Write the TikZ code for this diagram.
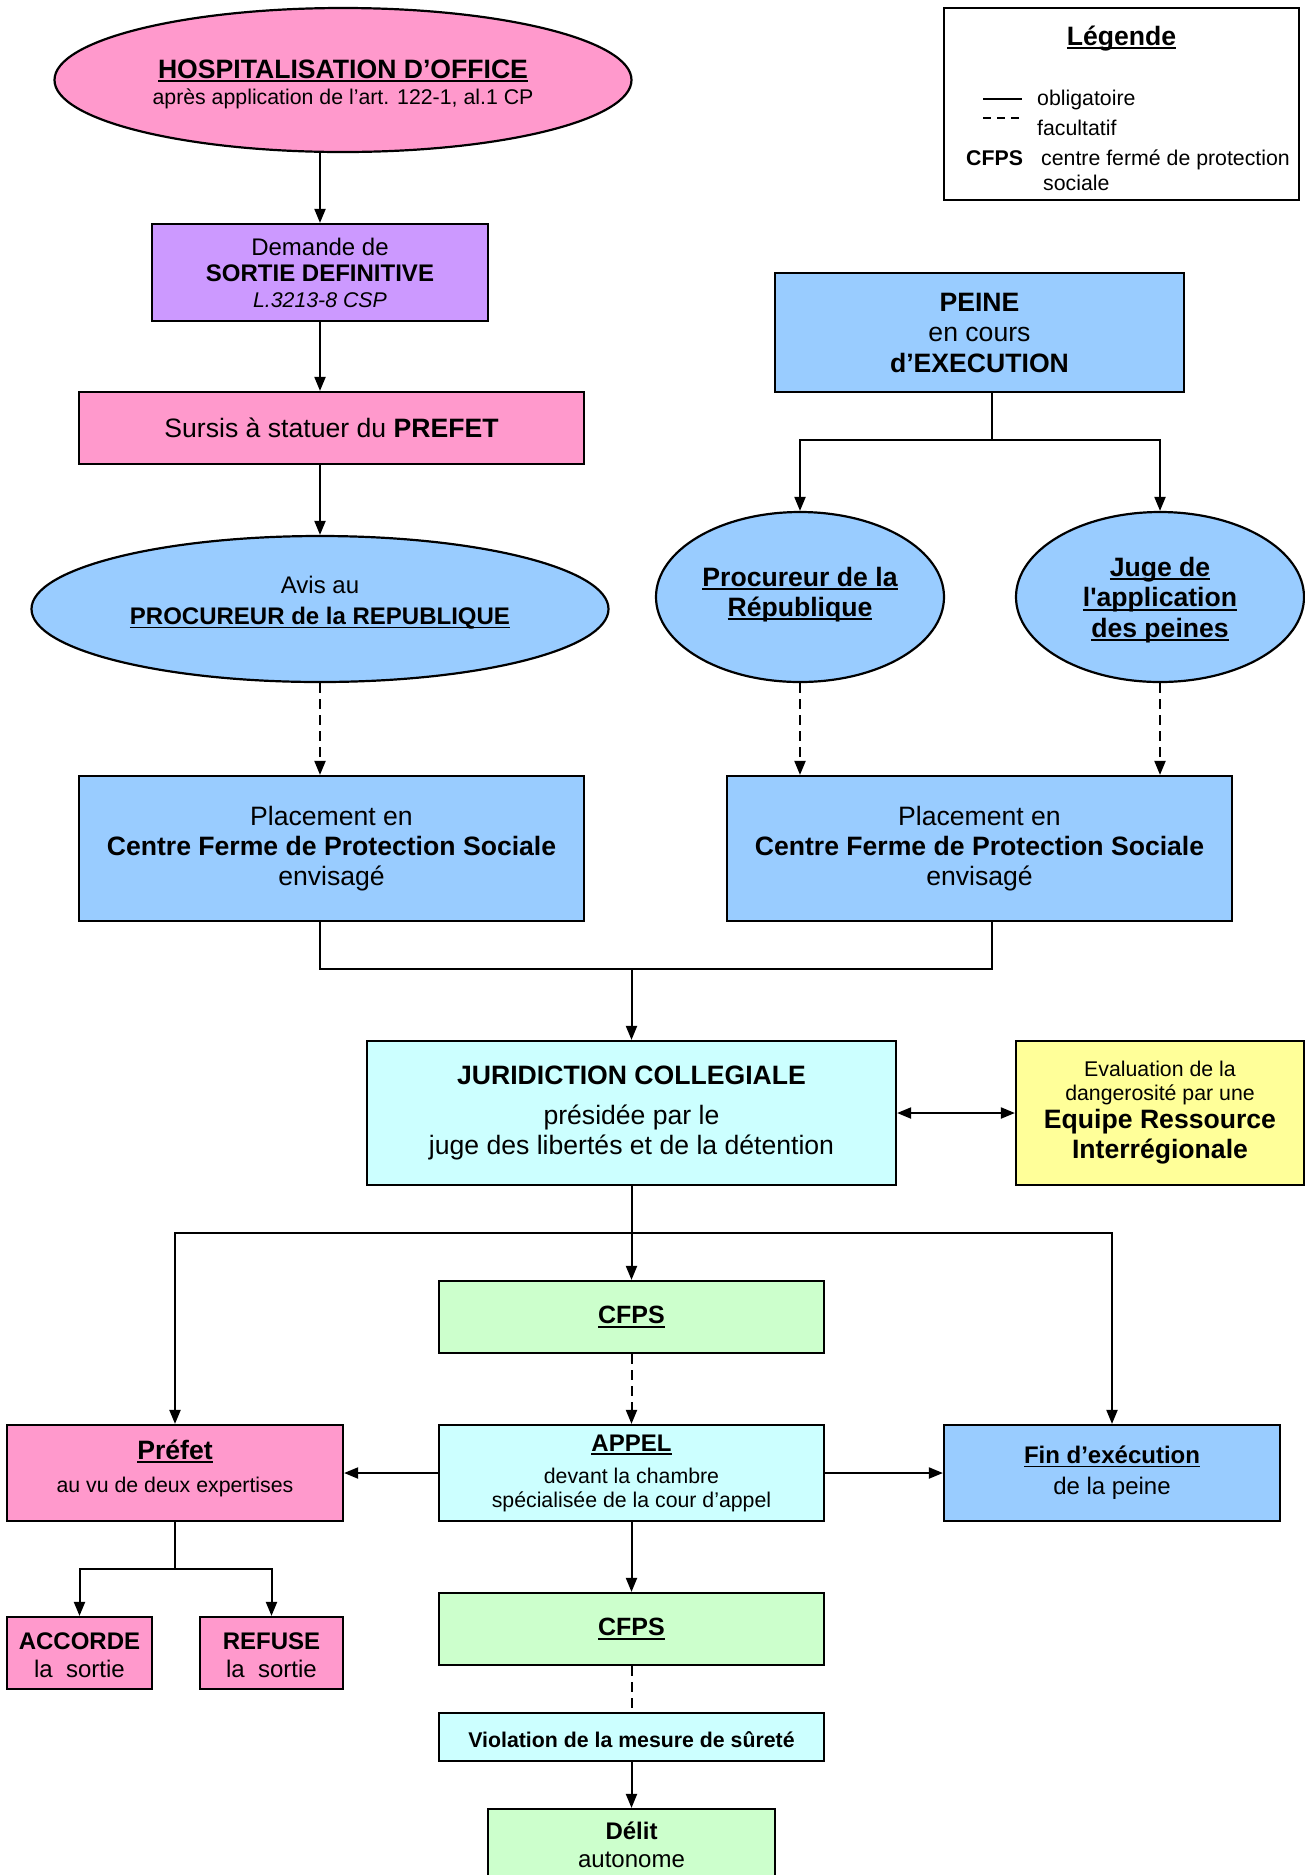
\documentclass[tikz,border=0pt]{standalone}
\usepackage{fontspec}
\setmainfont{Liberation Sans}
\usetikzlibrary{arrows.meta,shapes.geometric}
\definecolor{cpink}{HTML}{FF99CC}
\definecolor{cpurple}{HTML}{CC99FF}
\definecolor{cblue}{HTML}{99CCFF}
\definecolor{ccyan}{HTML}{CCFFFF}
\definecolor{cyel}{HTML}{FFFF99}
\definecolor{cgreen}{HTML}{CCFFCC}
\newsavebox\myulbox
\newcommand\myul[1]{\sbox\myulbox{#1}\rlap{\rule[-0.15em]{\wd\myulbox}{0.075em}}\usebox\myulbox}
\newcommand\szL{\fontsize{26.6pt}{31pt}\selectfont}
\newcommand\szM{\fontsize{24pt}{28pt}\selectfont}
\newcommand\szS{\fontsize{21.3pt}{24.5pt}\selectfont}
\tikzset{
 box/.style={draw=black, line width=2.2pt, rectangle, inner sep=0pt, align=center},
 ell/.style={draw=black, line width=2.2pt, ellipse, inner sep=0pt},
 txt/.style={align=center, inner sep=0pt},
 ln/.style={line width=2pt},
 arr/.style={line width=2pt, -{Triangle[length=14pt,width=11pt]}},
 arrtwo/.style={line width=2pt, {Triangle[length=14pt,width=11pt]}-{Triangle[length=14pt,width=11pt]}},
 dsh/.style={dash pattern=on 10pt off 6pt},
}
\begin{document}
\begin{tikzpicture}[x=1pt,y=-1pt]
\useasboundingbox (0,0) rectangle (1305,1875);
\fill[white] (0,0) rectangle (1305,1875);

% Legend
\node[box, fill=white, line width=1.8pt, minimum width=355pt, minimum height=192pt] (leg) at (1121.5,104) {};
\node[txt, font=\szL\bfseries] (legT) at (1121.5,38.5) {\myul{Légende}};
\draw[line width=1.6pt] (983,99) -- (1022,99);
\node[anchor=base west, inner sep=0pt, font=\szS] (legA) at (1037,105.5) {obligatoire};
\draw[line width=1.6pt, dash pattern=on 8pt off 6pt] (983,118) -- (1021,118);
\node[anchor=base west, inner sep=0pt, font=\szS] (legB) at (1037,135.5) {facultatif};
\node[anchor=base west, inner sep=0pt, font=\szS\bfseries] (legC) at (966,165.5) {CFPS};
\node[anchor=base west, inner sep=0pt, font=\szS] (legD) at (1041,165.5) {centre fermé de protection};
\node[anchor=base west, inner sep=0pt, font=\szS] (legE) at (1043,190.5) {sociale};

% Left column
\node[ell, fill=cpink, minimum width=577pt, minimum height=144pt] (ho) at (343,80) {};
\node[txt, font=\fontsize{21.3pt}{26pt}\selectfont] (hoT) at (343,84) {{\szL\bfseries\myul{HOSPITALISATION D’OFFICE}}\\{\szS après application de l’art. 122-1, al.1 CP}};

\node[box, fill=cpurple, minimum width=336pt, minimum height=97pt, font=\fontsize{24pt}{26pt}\selectfont] (dem) at (320,272.5) {Demande de\\\textbf{SORTIE DEFINITIVE}\\{\szS\itshape L.3213-8 CSP}};

\node[box, fill=cpink, minimum width=505pt, minimum height=72pt, font=\szL] (sur) at (331.5,428) {Sursis à statuer du \textbf{PREFET}};

\node[ell, fill=cblue, minimum width=577pt, minimum height=146pt] (avis) at (320,609) {};
\node[txt, font=\fontsize{24pt}{31pt}\selectfont] (avisT) at (320,603) {Avis au\\\textbf{\myul{PROCUREUR de la REPUBLIQUE}}};

\node[box, fill=cblue, minimum width=505pt, minimum height=145pt, font=\fontsize{26.6pt}{30pt}\selectfont] (plL) at (331.5,848.5) {Placement en\\\textbf{Centre Ferme de Protection Sociale}\\envisagé};

% Right column
\node[box, fill=cblue, minimum width=409pt, minimum height=119pt, font=\fontsize{26.6pt}{30.5pt}\selectfont] (peine) at (979.5,332.5) {\textbf{PEINE}\\en cours\\\textbf{d’EXECUTION}};

\node[ell, fill=cblue, minimum width=288pt, minimum height=170pt] (proc) at (800,597) {};
\node[txt, font=\fontsize{26.6pt}{30pt}\selectfont\bfseries] (procT) at (800,594.5) {\myul{Procureur de la}\\\myul{République}};

\node[ell, fill=cblue, minimum width=288pt, minimum height=170pt] (juge) at (1160,597) {};
\node[txt, font=\fontsize{26.6pt}{30.5pt}\selectfont\bfseries] (jugeT) at (1160,600) {\myul{Juge de}\\\myul{l\textquotesingle application}\\\myul{des peines}};

\node[box, fill=cblue, minimum width=505pt, minimum height=145pt, font=\fontsize{26.6pt}{30pt}\selectfont] (plR) at (979.5,848.5) {Placement en\\\textbf{Centre Ferme de Protection Sociale}\\envisagé};

% Middle
\node[box, fill=ccyan, minimum width=529pt, minimum height=144pt, font=\fontsize{26.6pt}{30pt}\selectfont] (jur) at (631.5,1113) {\textbf{JURIDICTION COLLEGIALE}\\[10pt]présidée par le\\juge des libertés et de la détention};

\node[box, fill=cyel, minimum width=288pt, minimum height=144pt, font=\fontsize{26.6pt}{30pt}\selectfont] (eva) at (1160,1113) {{\szS Evaluation de la}\\[-6pt]{\szS dangerosité par une}\\[-2pt]\textbf{Equipe Ressource}\\\textbf{Interrégionale}};

\node[box, fill=cgreen, minimum width=385pt, minimum height=72pt, font=\fontsize{25pt}{30pt}\selectfont] (cfpsA) at (631.5,1317) {\textbf{\myul{CFPS}}};

\node[box, fill=cpink, minimum width=336pt, minimum height=96pt] (pref) at (175,1473) {};
\node[txt, font=\fontsize{26.6pt}{33pt}\selectfont] (prefT) at (175,1468) {\textbf{\myul{Préfet}}\\{\szS au vu de deux expertises}};

\node[box, fill=ccyan, minimum width=385pt, minimum height=96pt, font=\fontsize{21.3pt}{24pt}\selectfont] (appel) at (631.5,1473) {{\szM\bfseries\myul{APPEL}}\\[8pt]devant la chambre\\spécialisée de la cour d’appel};

\node[box, fill=cblue, minimum width=336pt, minimum height=96pt, font=\fontsize{24pt}{31pt}\selectfont] (fin) at (1112,1473) {\textbf{\myul{Fin d’exécution}}\\de la peine};

\node[box, fill=cpink, minimum width=145pt, minimum height=72pt] (acc) at (79.5,1653) {};
\node[txt, font=\fontsize{24pt}{28pt}\selectfont] (accT) at (79.5,1655.5) {\textbf{ACCORDE}\\la\ \ sortie};
\node[box, fill=cpink, minimum width=143pt, minimum height=72pt] (ref) at (271.5,1653) {};
\node[txt, font=\fontsize{24pt}{28pt}\selectfont] (refT) at (271.5,1655.5) {\textbf{REFUSE}\\la\ \ sortie};

\node[box, fill=cgreen, minimum width=385pt, minimum height=72pt, font=\fontsize{25pt}{30pt}\selectfont] (cfpsB) at (631.5,1629) {\textbf{\myul{CFPS}}};

\node[box, fill=ccyan, minimum width=385pt, minimum height=48pt] (viol) at (631.5,1737) {};
\node[txt, font=\fontsize{21.3pt}{25pt}\selectfont\bfseries] (violT) at (631.5,1740) {Violation de la mesure de sûreté};

\node[box, fill=cgreen, minimum width=287pt, minimum height=72pt, font=\fontsize{24pt}{28pt}\selectfont] (delit) at (631.5,1845) {\textbf{Délit}\\autonome};

% Connectors
\draw[arr] (dem.north |- ho.south) -- (dem.north);
\draw[arr] (dem.south) -- (dem.south |- sur.north);
\draw[arr] (dem.south |- sur.south) -- (avis.north);
\draw[arr, dsh] (avis.south) -- (avis.south |- plL.north);

\coordinate (pj) at (992,440);
\draw[ln] (peine.south -| pj) -- (pj);
\draw[arr] (pj) -| (proc.north);
\draw[arr] (pj) -| (juge.north);
\draw[arr, dsh] (proc.south) -- (proc.south |- plR.north);
\draw[arr, dsh] (juge.south) -- (juge.south |- plR.north);

\coordinate (bl) at (320,969);
\coordinate (br) at (992,969);
\draw[ln] (plL.south -| bl) -- (bl) -- (br) -- (plR.south -| br);
\draw[arr] (jur.north |- bl) -- (jur.north);

\draw[arrtwo] (jur.east) -- (eva.west);

\coordinate (jb) at (632,1233);
\draw[arr] (jur.south) -- (cfpsA.north);
\draw[arr] (jur.south |- jb) -| (pref.north);
\draw[arr] (jur.south |- jb) -| (fin.north);

\draw[arr, dsh] (cfpsA.south) -- (appel.north);
\draw[arr] (appel.west) -- (pref.east);
\draw[arr] (appel.east) -- (fin.west);
\draw[arr] (appel.south) -- (cfpsB.north);
\draw[ln, dsh] (cfpsB.south) -- (viol.north);
\draw[arr] (viol.south) -- (delit.north);

\coordinate (pb) at (176,1569);
\draw[ln] (pref.south) -- (pref.south |- pb);
\draw[arr] (pref.south |- pb) -| (acc.north);
\draw[arr] (pref.south |- pb) -| (ref.north);
\end{tikzpicture}
\end{document}
